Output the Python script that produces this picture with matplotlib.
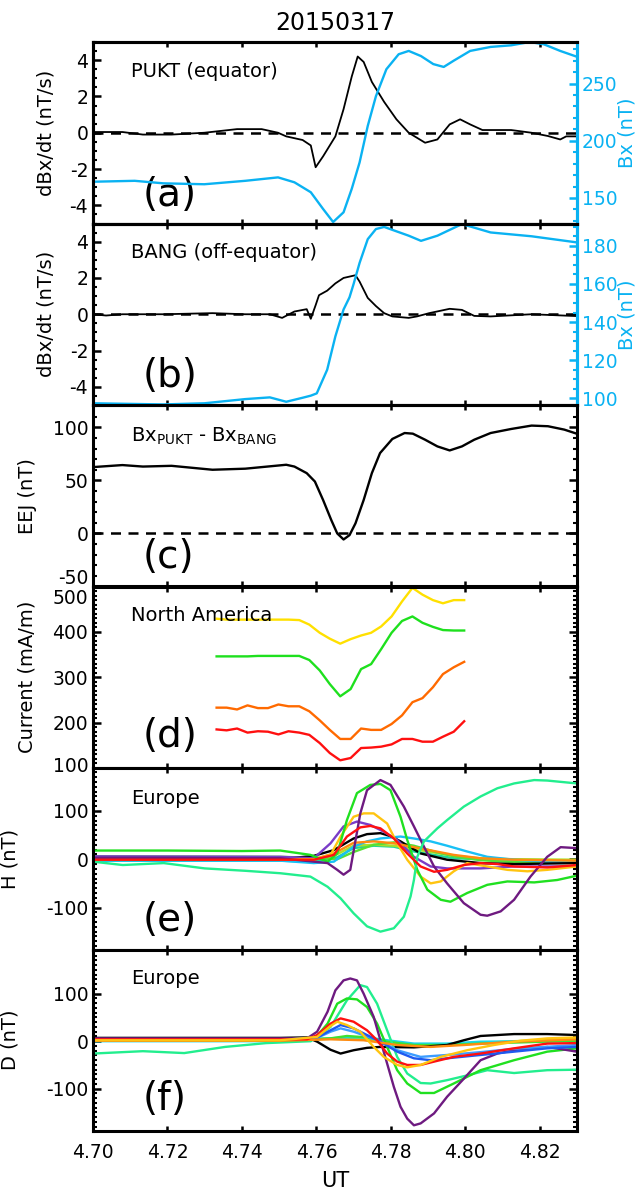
import matplotlib
matplotlib.use("Agg")
import matplotlib.pyplot as plt
from matplotlib.ticker import MultipleLocator
from matplotlib.transforms import ScaledTranslation

plt.rcParams["font.family"] = ["DejaVu Sans"]
plt.rcParams["mathtext.default"] = "regular"
plt.rcParams["axes.unicode_minus"] = False

BLUE = "#0AB2F2"

# ---- panel (a): PUKT ----
a_dbdt_t = [4.7000, 4.7079, 4.7134, 4.7211, 4.7299, 4.7387, 4.7453, 4.7497, 4.7519, 4.7563,
            4.7585, 4.7598, 4.7618, 4.7651, 4.7673, 4.7695, 4.7711, 4.7727, 4.7749, 4.7782,
            4.7815, 4.7848, 4.7892, 4.7925, 4.7958, 4.7986, 4.8013, 4.8046, 4.8123, 4.8178,
            4.8222, 4.8255, 4.8271, 4.8299]
a_dbdt = [0.04, 0.04, -0.1, -0.1, 0.0, 0.2, 0.2, 0.0, -0.2, -0.4,
          -0.7, -1.9, -1.3, -0.2, 1.3, 3.1, 4.2, 3.9, 2.8, 1.7,
          0.74, 0.0, -0.55, -0.37, 0.46, 0.74, 0.46, 0.15, 0.15, 0.0,
          -0.18, -0.37, -0.2, -0.2]
a_bx_t = [4.7000, 4.7112, 4.7189, 4.7299, 4.7409, 4.7497, 4.7541, 4.7585, 4.7618, 4.7645,
          4.7673, 4.7695, 4.7716, 4.7738, 4.7760, 4.7788, 4.7821, 4.7848, 4.7881, 4.7914,
          4.7942, 4.7969, 4.8013, 4.8068, 4.8123, 4.8173, 4.8211, 4.8255, 4.8299]
a_bx = [164.2, 165.0, 162.8, 162.0, 165.0, 168.0, 163.7, 155.0, 140.4, 129.0,
        137.5, 158.0, 181.0, 213.0, 239.0, 262.5, 275.6, 278.5, 274.0, 267.0,
        264.5, 270.0, 278.5, 282.0, 283.4, 286.3, 284.3, 278.5, 273.5]

# ---- panel (b): BANG ----
b_dbdt_t = [4.7000, 4.7035, 4.7079, 4.7189, 4.7321, 4.7409, 4.7475, 4.7508, 4.7541, 4.7574,
            4.7585, 4.7598, 4.7607, 4.7629, 4.7651, 4.7673, 4.7705, 4.7716, 4.7738, 4.7760,
            4.7782, 4.7804, 4.7848, 4.7870, 4.7903, 4.7958, 4.7991, 4.8024, 4.8068, 4.8178,
            4.8299]
b_dbdt = [0.0, -0.07, 0.0, 0.0, 0.06, 0.0, 0.0, -0.2, 0.15, 0.28,
          -0.25, 0.5, 1.05, 1.3, 1.7, 2.0, 2.15, 1.8, 0.9, 0.45,
          0.06, -0.12, -0.2, -0.12, 0.06, 0.3, 0.24, -0.09, -0.12, 0.0,
          -0.1]
b_bx_t = [4.7000, 4.7189, 4.7299, 4.7409, 4.7475, 4.7519, 4.7563, 4.7585, 4.7601, 4.7629,
          4.7651, 4.7673, 4.7689, 4.7700, 4.7716, 4.7738, 4.7760, 4.7782, 4.7848, 4.7881,
          4.7925, 4.7991, 4.8068, 4.8178, 4.8299]
b_bx = [97.4, 96.8, 97.4, 99.6, 100.5, 98.2, 100.3, 101.4, 102.6, 115.0,
        132.5, 146.6, 153.0, 160.0, 171.0, 183.5, 188.8, 189.9, 185.3, 182.6,
        185.3, 191.4, 187.0, 185.0, 181.8]

# ---- panel (c): EEJ ----
c_t = [4.7000, 4.7079, 4.7134, 4.7211, 4.7321, 4.7409, 4.7519, 4.7541, 4.7574, 4.7596,
       4.7618, 4.7640, 4.7656, 4.7673, 4.7689, 4.7705, 4.7727, 4.7749, 4.7771, 4.7804,
       4.7837, 4.7859, 4.7892, 4.7925, 4.7958, 4.7991, 4.8024, 4.8068, 4.8123, 4.8178,
       4.8222, 4.8266, 4.8299]
c_eej = [62.5, 64.4, 63.0, 63.7, 60.0, 61.0, 64.7, 63.0, 56.8, 48.9,
         31.5, 12.6, 0.0, -5.7, -1.6, 9.5, 31.5, 56.8, 75.7, 89.0,
         94.6, 94.0, 88.3, 82.0, 78.2, 82.0, 88.3, 94.6, 98.4, 101.6,
         101.0, 97.8, 94.0]

# ---- panel (d): North America currents ----
d_t = [4.7332, 4.7359, 4.7387, 4.7415, 4.7443, 4.7470, 4.7498, 4.7525, 4.7554, 4.7581,
       4.7609, 4.7636, 4.7664, 4.7692, 4.7720, 4.7747, 4.7774, 4.7802, 4.7830, 4.7858,
       4.7885, 4.7913, 4.7940, 4.7969, 4.7997]
d_yellow = [429, 427, 427, 427, 427, 427, 427, 427, 426, 416,
            398, 385, 374, 384, 392, 398, 412, 434, 467, 497,
            482, 470, 463, 470, 470]
d_green = [346, 346, 346, 346, 347, 347, 347, 347, 347, 338,
           315, 285, 258, 274, 318, 329, 362, 398, 424, 434,
           420, 411, 404, 403, 403]
d_orange = [233, 233, 229, 238, 232, 232, 240, 236, 236, 225,
            205, 184, 164, 164, 187, 184, 184, 197, 216, 245,
            254, 278, 307, 322, 334]
d_red = [185, 183, 187, 178, 181, 180, 174, 181, 178, 173,
         155, 133, 117, 122, 144, 145, 147, 152, 164, 164,
         158, 158, 169, 180, 203]

# ---- panel (e): Europe H ----
e_spring_t = [4.700, 4.708, 4.719, 4.730, 4.741, 4.7503, 4.7584, 4.7630, 4.7665, 4.7700,
              4.7736, 4.7772, 4.7808, 4.7835, 4.7853, 4.7862, 4.7871, 4.7889, 4.7925, 4.7951,
              4.7996, 4.8041, 4.8086, 4.8131, 4.8185, 4.8220, 4.8300]
e_spring = [-5, -12, -8, -19, -24, -29, -36, -57, -81, -112,
            -139, -150, -143, -119, -77, -43, 5, 37, 64, 81,
            109, 130, 147, 157, 164, 163, 157]
e_purple_t = [4.700, 4.720, 4.740, 4.7503, 4.7593, 4.7630, 4.7656, 4.7673, 4.7691, 4.7718,
              4.7736, 4.7772, 4.7799, 4.7835, 4.7862, 4.7889, 4.7916, 4.7951, 4.7996, 4.8041,
              4.8059, 4.8095, 4.8131, 4.8175, 4.8220, 4.8256, 4.8300]
e_purple = [3, 3, 2, 2, -5, -8, -22, -32, -22, 95,
            143, 164, 154, 109, 68, 26, -15, -50, -91, -115,
            -117, -108, -84, -36, 5, 25, 23]
e_green_t = [4.700, 4.720, 4.740, 4.7503, 4.7584, 4.7630, 4.7656, 4.7682, 4.7709, 4.7745,
             4.7772, 4.7799, 4.7826, 4.7844, 4.7871, 4.7898, 4.7934, 4.7960, 4.8005, 4.8059,
             4.8113, 4.8185, 4.8247, 4.8300]
e_green = [18, 18, 17, 18, 9, -5, 12, 81, 137, 154,
           156, 143, 88, 40, -22, -63, -84, -88, -70, -53,
           -46, -48, -43, -34]
e_gold_t = [4.700, 4.7503, 4.7593, 4.7638, 4.7665, 4.7700, 4.7727, 4.7754, 4.7790, 4.7817,
            4.7844, 4.7880, 4.7907, 4.7934, 4.7969, 4.8005, 4.8059, 4.8113, 4.8167, 4.8220,
            4.8300]
e_gold = [0, -1, 0, 9, 47, 88, 95, 95, 74, 33,
          -1, -36, -50, -46, -25, -8, -15, -22, -25, -22,
          -15]
e_violet_t = [4.700, 4.7503, 4.7593, 4.7638, 4.7673, 4.7709, 4.7745, 4.7781, 4.7817, 4.7862,
              4.7907, 4.7951, 4.8041, 4.8131, 4.8300]
e_violet = [6, 5, 2, 33, 68, 78, 71, 57, 40, 5,
            -15, -19, -19, -15, -15]
e_red_t = [4.700, 4.7503, 4.7593, 4.7647, 4.7682, 4.7718, 4.7745, 4.7772, 4.7808, 4.7844,
           4.7880, 4.7916, 4.7951, 4.7996, 4.8041, 4.8086, 4.8131, 4.8220, 4.8300]
e_red = [-1, -1, -1, 9, 47, 66, 69, 64, 43, 12,
         -15, -26, -22, -12, -8, -10, -15, -17, -12]
e_black_t = [4.700, 4.7503, 4.7593, 4.7647, 4.7700, 4.7736, 4.7772, 4.7799, 4.7826, 4.7880,
             4.7951, 4.8041, 4.8131, 4.8300]
e_black = [0, 0, 7, 19, 43, 52, 54, 48, 37, 12,
           -1, -8, -10, -8]
e_cyan_t = [4.700, 4.7503, 4.7593, 4.7647, 4.7700, 4.7736, 4.7772, 4.7826, 4.7862, 4.7907,
            4.7951, 4.8005, 4.8059, 4.8131, 4.8220, 4.8300]
e_cyan = [-3, -3, -8, -5, 26, 37, 43, 47, 43, 37,
          28, 16, 5, -1, -5, -7]
e_orange_t = [4.700, 4.7503, 4.7593, 4.7647, 4.7700, 4.7754, 4.7808, 4.7862, 4.7916, 4.7969,
              4.8041, 4.8131, 4.8300]
e_orange = [-1, -1, 0, 12, 34, 37, 33, 25, 17, 9,
            2, -1, -3]
e_ygreen_t = [4.700, 4.7503, 4.7593, 4.7647, 4.7700, 4.7754, 4.7808, 4.7862, 4.7916, 4.7969,
              4.8041, 4.8131, 4.8300]
e_ygreen = [-1, -1, -1, 7, 28, 30, 28, 21, 14, 7,
            2, 0, -1]
e_teal_t = [4.700, 4.7503, 4.7593, 4.7656, 4.7700, 4.7754, 4.7808, 4.7862, 4.7916, 4.7969,
            4.8041, 4.8300]
e_teal = [-3, -3, -5, 4, 23, 28, 26, 16, 9, 2,
          0, -3]
e_lime_t = [4.700, 4.7503, 4.7593, 4.7656, 4.7700, 4.7754, 4.7808, 4.7862, 4.7916, 4.7969,
            4.8041, 4.8131, 4.8300]
e_lime = [6, 5, 3, 0, 15, 30, 35, 28, 16, 6,
          -2, -6, -8]

# ---- panel (f): Europe D ----
f_purple_t = [4.700, 4.7503, 4.7575, 4.7602, 4.7630, 4.7651, 4.7673, 4.7691, 4.7709, 4.7727,
              4.7754, 4.7772, 4.7790, 4.7808, 4.7826, 4.7844, 4.7862, 4.7880, 4.7916, 4.7951,
              4.7996, 4.8041, 4.8086, 4.8131, 4.8220, 4.8300]
f_purple = [6, 6, 6, 20, 62, 107, 128, 132, 128, 100,
            51, 2, -47, -96, -138, -163, -177, -173, -152, -117,
            -79, -40, -26, -19, -12, -22]
f_spring_t = [4.700, 4.7134, 4.7245, 4.7355, 4.7465, 4.7585, 4.7638, 4.7682, 4.7718, 4.7736,
              4.7763, 4.7790, 4.7817, 4.7844, 4.7880, 4.7907, 4.7951, 4.8005, 4.8059, 4.8131,
              4.8220, 4.8300]
f_spring = [-26, -21, -25, -12, -4, 0, 30, 86, 118, 114,
            79, 23, -33, -68, -88, -89, -82, -72, -61, -67,
            -61, -60]
f_green_t = [4.700, 4.7503, 4.7593, 4.7630, 4.7656, 4.7682, 4.7709, 4.7736, 4.7763, 4.7790,
             4.7817, 4.7844, 4.7880, 4.7916, 4.7969, 4.8041, 4.8131, 4.8220, 4.8300]
f_green = [2, 2, 3, 37, 79, 90, 88, 72, 37, -12,
           -61, -89, -109, -109, -89, -61, -40, -22, -15]
f_black_t = [4.700, 4.7503, 4.7575, 4.7602, 4.7638, 4.7665, 4.7700, 4.7736, 4.7772, 4.7862,
             4.7951, 4.7996, 4.8041, 4.8131, 4.8220, 4.8300]
f_black = [7, 7, 8, -1, -18, -26, -19, -14, -12, -13,
           -8, 2, 11, 15, 15, 13]
f_red_t = [4.700, 4.7503, 4.7575, 4.7602, 4.7638, 4.7665, 4.7700, 4.7736, 4.7763, 4.7790,
           4.7817, 4.7844, 4.7880, 4.7916, 4.7969, 4.8041, 4.8131, 4.8220, 4.8300]
f_red = [4, 4, 4, 13, 37, 48, 41, 23, 2, -26,
         -43, -50, -50, -43, -33, -26, -15, -5, -4]
f_gold_t = [4.700, 4.7503, 4.7602, 4.7638, 4.7656, 4.7682, 4.7718, 4.7754, 4.7781, 4.7817,
            4.7844, 4.7880, 4.7934, 4.8005, 4.8077, 4.8149, 4.8220, 4.8300]
f_gold = [2, 2, 9, 32, 41, 34, 20, -12, -33, -50,
          -55, -50, -33, -19, -8, 1, 6, 8]
f_blue_t = [4.700, 4.7503, 4.7602, 4.7638, 4.7665, 4.7700, 4.7736, 4.7772, 4.7817, 4.7862,
            4.7907, 4.7951, 4.8041, 4.8131, 4.8220, 4.8300]
f_blue = [2, 2, 8, 23, 34, 27, 13, -1, -22, -36,
          -40, -36, -29, -22, -15, -12]
f_lblue_t = [4.700, 4.7503, 4.7602, 4.7638, 4.7665, 4.7700, 4.7736, 4.7772, 4.7817, 4.7880,
             4.7951, 4.8041, 4.8131, 4.8300]
f_lblue = [3, 3, 7, 20, 27, 20, 10, 0, -19, -33,
           -29, -23, -16, -8]
f_cyan_t = [4.700, 4.7503, 4.7682, 4.7736, 4.7790, 4.7862, 4.7951, 4.8041, 4.8300]
f_cyan = [0, 0, 8, 8, 2, -5, -5, -1, 1]
f_orange_t = [4.700, 4.7503, 4.7638, 4.7727, 4.7817, 4.7907, 4.7996, 4.8131, 4.8300]
f_orange = [1, 1, 4, 2, -8, -12, -8, -1, 4]
f_lime_t = [4.700, 4.7503, 4.7638, 4.7682, 4.7736, 4.7790, 4.7862, 4.7951, 4.8041, 4.8300]
f_lime = [2, 2, 6, 11, 8, -1, -8, -8, -5, 1]
f_ygreen_t = [4.700, 4.7503, 4.7638, 4.7727, 4.7817, 4.7907, 4.7996, 4.8131, 4.8300]
f_ygreen = [2, 2, 5, 4, -5, -9, -6, 0, 5]

xlim = (4.70, 4.83)
xticks = [4.70, 4.72, 4.74, 4.76, 4.78, 4.80, 4.82]

fig = plt.figure(figsize=(6.41, 11.94), dpi=100)
W, H = 641.0, 1194.0
left_px, right_px = 93, 577
top_px, bot_px = 42, 1131
ph = (bot_px - top_px) / 6.0
TS = 13.5   # tick label size
LS = 14     # axis label size

axes = []
for i in range(6):
    y0 = top_px + i * ph
    ax = fig.add_axes([left_px / W, 1 - (y0 + ph) / H, (right_px - left_px) / W, ph / H])
    ax.set_xlim(*xlim)
    ax.set_xticks(xticks)
    for sp in ax.spines.values():
        sp.set_linewidth(2.2)
    ax.tick_params(axis="x", direction="in", length=3.5, width=1.8, top=True,
                   labelsize=TS, pad=9)
    ax.tick_params(axis="y", which="major", direction="in", length=6, width=1.8,
                   labelsize=TS, right=(i >= 2))
    ax.tick_params(axis="y", which="minor", direction="in", length=3, width=1.5,
                   right=(i >= 2))
    if i < 5:
        ax.tick_params(axis="x", labelbottom=False)
    axes.append(ax)

ax_a, ax_b, ax_c, ax_d, ax_e, ax_f = axes
lw_k = 1.3
lw_c = 1.7
dash = dict(color="k", lw=1.8, ls=(0, (4, 3)))


def panel_label(ax, s, y):
    ax.text(0.103, y, s, transform=ax.transAxes, fontsize=28, ha="left", va="center")


def note(ax, s, y):
    ax.text(0.078, y, s, transform=ax.transAxes, fontsize=14, ha="left", va="center")


def shift_label(ax, idx, dy_px):
    lab = ax.yaxis.get_major_ticks()[idx].label1
    lab.set_transform(lab.get_transform() + ScaledTranslation(0, dy_px / 100.0, fig.dpi_scale_trans))


# (a)
ax_a.axhline(0, **dash)
ax_a.plot(a_dbdt_t, a_dbdt, color="k", lw=lw_k, zorder=3)
ax_a.set_ylim(-5, 5)
ax_a.yaxis.set_major_locator(MultipleLocator(2))
ax_a.yaxis.set_minor_locator(MultipleLocator(0.5))
ax_a.set_ylabel("dBx/dt (nT/s)", fontsize=LS)
ax_a.yaxis.set_label_coords(-0.078, 0.5)
ax_a2 = ax_a.twinx()
ax_a2.plot(a_bx_t, a_bx, color=BLUE, lw=lw_c)
ax_a2.set_ylim(127.7, 286.3)
ax_a2.yaxis.set_major_locator(MultipleLocator(50))
ax_a2.yaxis.set_minor_locator(MultipleLocator(10))
note(ax_a, "PUKT (equator)", 0.835)
panel_label(ax_a, "(a)", 0.157)
fig.text((left_px + right_px) / 2 / W, 1 - 23.5 / H, "20150317", fontsize=17,
         ha="center", va="center")

# (b)
ax_b.axhline(0, **dash)
ax_b.plot(b_dbdt_t, b_dbdt, color="k", lw=lw_k, zorder=3)
ax_b.set_ylim(-5, 5)
ax_b.yaxis.set_major_locator(MultipleLocator(2))
ax_b.yaxis.set_minor_locator(MultipleLocator(0.5))
ax_b.set_ylabel("dBx/dt (nT/s)", fontsize=LS)
ax_b.yaxis.set_label_coords(-0.078, 0.5)
ax_b2 = ax_b.twinx()
ax_b2.plot(b_bx_t, b_bx, color=BLUE, lw=lw_c)
ax_b2.set_ylim(96.5, 191.7)
ax_b2.yaxis.set_major_locator(MultipleLocator(20))
ax_b2.yaxis.set_minor_locator(MultipleLocator(5))
note(ax_b, "BANG (off-equator)", 0.84)
panel_label(ax_b, "(b)", 0.159)

for tw in (ax_a2, ax_b2):
    tw.set_xlim(*xlim)
    for sp in tw.spines.values():
        sp.set_linewidth(2.2)
    tw.spines["right"].set_color(BLUE)
    tw.tick_params(axis="y", which="major", direction="in", length=6, width=1.8,
                   colors=BLUE, labelsize=TS)
    tw.tick_params(axis="y", which="minor", direction="in", length=3, width=1.5,
                   colors=BLUE)
    tw.set_ylabel("Bx (nT)", color=BLUE, fontsize=LS)
    tw.yaxis.set_label_coords(1.083, 0.5)

# (c)
ax_c.axhline(0, **dash)
ax_c.plot(c_t, c_eej, color="k", lw=1.7)
ax_c.set_ylim(-50, 121)
ax_c.set_yticks([-50, 0, 50, 100])
ax_c.yaxis.set_minor_locator(MultipleLocator(10))
ax_c.set_ylabel("EEJ (nT)", fontsize=LS)
ax_c.yaxis.set_label_coords(-0.116, 0.5)
note(ax_c, r"Bx$_{PUKT}$ - Bx$_{BANG}$", 0.825)
panel_label(ax_c, "(c)", 0.164)
shift_label(ax_c, 0, 10)

# (d)
ax_d.plot(d_t, d_yellow, color="#FFE000", lw=lw_c)
ax_d.plot(d_t, d_green, color="#1EE01E", lw=lw_c)
ax_d.plot(d_t, d_orange, color="#FF6A00", lw=lw_c)
ax_d.plot(d_t, d_red, color="#FF1010", lw=lw_c)
ax_d.set_ylim(100, 500)
ax_d.set_yticks([100, 200, 300, 400, 500])
ax_d.yaxis.set_minor_locator(MultipleLocator(10))
ax_d.set_ylabel("Current (mA/m)", fontsize=LS)
ax_d.yaxis.set_label_coords(-0.116, 0.5)
note(ax_d, "North America", 0.84)
panel_label(ax_d, "(d)", 0.177)
shift_label(ax_d, 0, 4)
shift_label(ax_d, 4, -10)

# (e)
e_series = [
    (e_teal_t, e_teal, "#1FD49A"),
    (e_ygreen_t, e_ygreen, "#A8E02A"),
    (e_lime_t, e_lime, "#55E035"),
    (e_cyan_t, e_cyan, "#18C0F5"),
    (e_black_t, e_black, "k"),
    (e_violet_t, e_violet, "#7A3CC8"),
    (e_orange_t, e_orange, "#FF8A10"),
    (e_gold_t, e_gold, "#FFC410"),
    (e_green_t, e_green, "#20E020"),
    (e_purple_t, e_purple, "#6E1A80"),
    (e_spring_t, e_spring, "#22EE8E"),
    (e_red_t, e_red, "#FF1010"),
]
for t, v, c in e_series:
    ax_e.plot(t, v, color=c, lw=lw_c)
ax_e.set_ylim(-187, 189)
ax_e.yaxis.set_major_locator(MultipleLocator(100))
ax_e.yaxis.set_minor_locator(MultipleLocator(10))
ax_e.set_ylabel("H (nT)", fontsize=LS)
ax_e.yaxis.set_label_coords(-0.151, 0.5)
note(ax_e, "Europe", 0.834)
panel_label(ax_e, "(e)", 0.163)

# (f)
f_series = [
    (f_ygreen_t, f_ygreen, "#A8E02A"),
    (f_cyan_t, f_cyan, "#18D8E8"),
    (f_lime_t, f_lime, "#40E030"),
    (f_black_t, f_black, "k"),
    (f_spring_t, f_spring, "#22EE8E"),
    (f_green_t, f_green, "#20E020"),
    (f_purple_t, f_purple, "#6E1A80"),
    (f_lblue_t, f_lblue, "#3C9CFF"),
    (f_blue_t, f_blue, "#1E5AF0"),
    (f_orange_t, f_orange, "#FF8A10"),
    (f_red_t, f_red, "#FF1010"),
    (f_gold_t, f_gold, "#FFC410"),
]
for t, v, c in f_series:
    ax_f.plot(t, v, color=c, lw=lw_c)
ax_f.set_ylim(-189, 193)
ax_f.yaxis.set_major_locator(MultipleLocator(100))
ax_f.yaxis.set_minor_locator(MultipleLocator(10))
ax_f.set_ylabel("D (nT)", fontsize=LS)
ax_f.yaxis.set_label_coords(-0.151, 0.5)
note(ax_f, "Europe", 0.84)
panel_label(ax_f, "(f)", 0.174)
ax_f.set_xticklabels(["%.2f" % x for x in xticks])
ax_f.set_xlabel("UT", fontsize=15, labelpad=6)

fig.savefig("out.png", dpi=100)
